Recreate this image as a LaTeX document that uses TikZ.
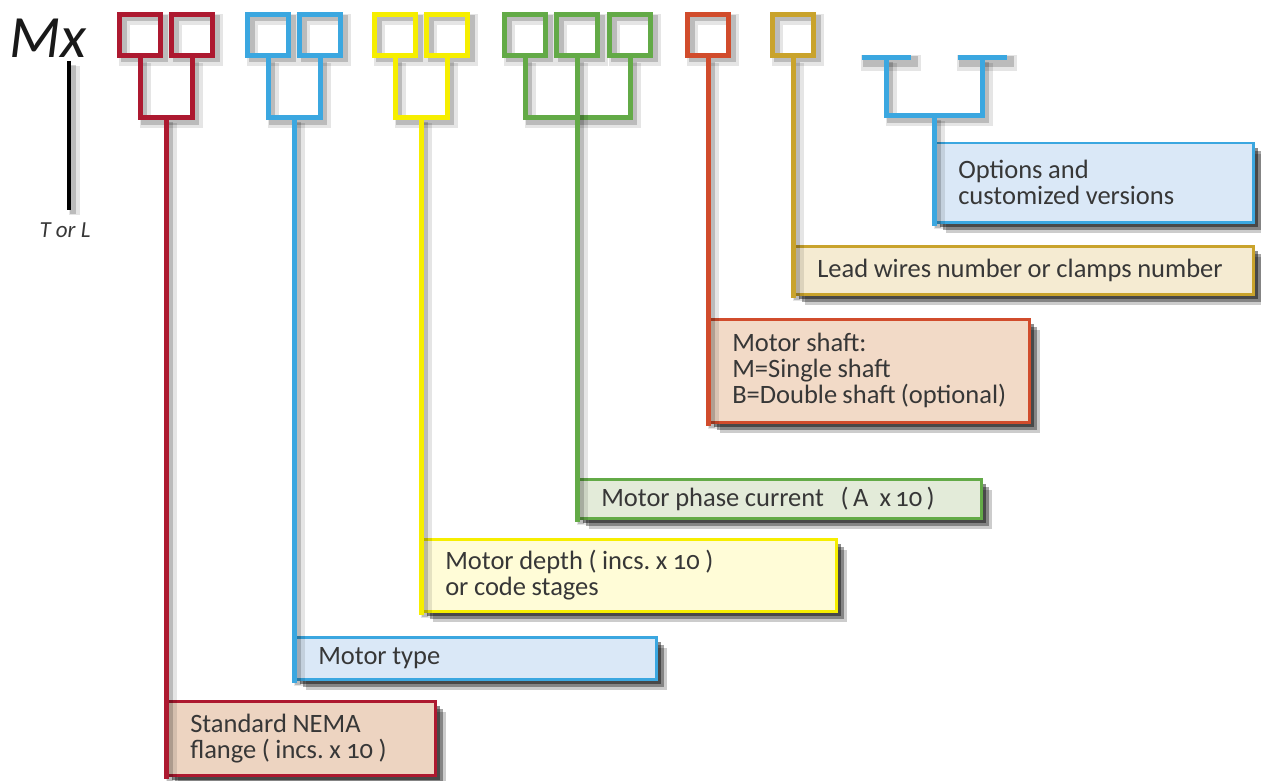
\documentclass[tikz,border=0pt]{standalone}
\usepackage{fontspec}
\setmainfont{Carlito}[Numbers=OldStyle]
\frenchspacing
\usetikzlibrary{calc}
\definecolor{cred}{RGB}{173,25,48}
\definecolor{cblue}{RGB}{59,167,224}
\definecolor{cyel}{RGB}{246,238,0}
\definecolor{cgreen}{RGB}{99,170,71}
\definecolor{corange}{RGB}{209,76,44}
\definecolor{cgold}{RGB}{201,163,44}
\definecolor{fblue}{RGB}{218,232,247}
\definecolor{fnema}{RGB}{237,212,193}
\definecolor{fyel}{RGB}{255,252,215}
\definecolor{fgreen}{RGB}{227,235,217}
\definecolor{fshaft}{RGB}{242,218,199}
\definecolor{flead}{RGB}{245,235,210}
\definecolor{tgray}{RGB}{55,55,55}
\newcommand\boxfont{\fontsize{26.5}{26}\selectfont}
\newcommand\mxfont{\fontsize{60}{60}\selectfont\itshape}
\newcommand\tlfont{\fontsize{23}{24}\selectfont\itshape}
\tikzset{
  lsh/.style={preaction={draw=black, opacity=.10, line width=11, transform canvas={shift={(5,5)}}},
              preaction={draw=black, opacity=.18, line width=6, transform canvas={shift={(4,4)}}}},
  bsh/.style={preaction={fill=black, opacity=.2, transform canvas={shift={(11,11)}}},
              preaction={fill=black, opacity=.35, transform canvas={shift={(8,8)}}},
              preaction={fill=black, opacity=.45, transform canvas={shift={(5,5)}}}},
  sq/.style={draw, line width=5, minimum size=41, inner sep=0, shape=rectangle, lsh},
  tbar/.style={fill, minimum width=49, minimum height=5, inner sep=0, shape=rectangle},
  br/.style={line width=5, line cap=rect, lsh},
  tbox/.style={draw, line width=2.5, inner xsep=23, inner ysep=0, align=left,
               anchor=north west, text=tgray, font=\boxfont, bsh,
               execute at begin node={\spaceskip=.21em plus .05em minus .03em\xspaceskip=.21em\relax}},
}
\begin{document}
\begin{tikzpicture}[x=1pt,y=-1pt]
\fill[white] (0,0) rectangle (1261,781);
\useasboundingbox (0,0) rectangle (1261,781);

% boxes
\node[tbox, draw=cred, fill=fnema, minimum width=268, minimum height=74, text width=222] (nema) at (166,700) {Standard NEMA\\flange ( incs. x 10 )};
\node[tbox, draw=cblue, fill=fblue, minimum width=361, minimum height=42, text width=315] (type) at (294,636) {Motor type};
\node[tbox, draw=cyel, fill=fyel, minimum width=414, minimum height=72, text width=368] (depth) at (421,538) {Motor depth ( incs. x 10 )\\or code stages};
\node[tbox, draw=cgreen, fill=fgreen, minimum width=403, minimum height=39, text width=357] (phase) at (577,478) {Motor phase current\ \ \ (\,A\ \ x\,10\,)};
\node[tbox, draw=corange, fill=fshaft, minimum width=320, minimum height=103, text width=274] (shaft) at (708,318) {Motor shaft:\\M=Single shaft\\B=Double shaft (optional)};
\node[tbox, draw=cgold, fill=flead, minimum width=459, minimum height=48, text width=413] (lead) at (793,245) {Lead wires number or clamps number};
\node[tbox, draw=cblue, fill=fblue, minimum width=318, minimum height=79, text width=272] (opts) at (934,142) {Options and\\customized versions};

% title
\node[anchor=base west, inner sep=0, font=\mxfont, text=black!90] (mx) at (9,58) {Mx};
\node[font=\tlfont, text=tgray] (tl) at (65,230) {T or L};
\coordinate (lt) at (69,61);
\coordinate (lb) at (69,210);
\draw[line width=4, black, lsh] (lt) -- (lb);

% squares
\node[sq, draw=cred] (r1) at (140,35) {};
\node[sq, draw=cred] (r2) at (192,35) {};
\node[sq, draw=cblue] (b1) at (268,35) {};
\node[sq, draw=cblue] (b2) at (320,35) {};
\node[sq, draw=cyel] (y1) at (395,35) {};
\node[sq, draw=cyel] (y2) at (447,35) {};
\node[sq, draw=cgreen] (g1) at (525,35) {};
\node[sq, draw=cgreen] (g2) at (577,35) {};
\node[sq, draw=cgreen] (g3) at (630,35) {};
\node[sq, draw=corange] (o1) at (708,35) {};
\node[sq, draw=cgold] (k1) at (793,35) {};
\node[tbar, cblue, lsh] (t1) at (886,58) {};
\node[tbar, cblue, lsh] (t2) at (982,58) {};

% junctions
\coordinate (rj) at (166,118);
\coordinate (bj) at (294,118);
\coordinate (yj) at (421,118);
\coordinate (tj) at (934,116);

% brackets and connectors
\draw[br, cred] (r1.south) -- (r1.south |- rj) -- (r2.south |- rj) -- (r2.south);
\draw[br, cred] (rj) -- (nema.south west);
\draw[br, cblue] (b1.south) -- (b1.south |- bj) -- (b2.south |- bj) -- (b2.south);
\draw[br, cblue] (bj) -- (type.south west);
\draw[br, cyel] (y1.south) -- (y1.south |- yj) -- (y2.south |- yj) -- (y2.south);
\draw[br, cyel] (yj) -- (depth.south west);
\draw[br, cgreen] (g1.south) -- (g1.south |- rj) -- (g3.south |- rj) -- (g3.south);
\draw[br, cgreen] (g2.south) -- (phase.south west);
\draw[br, corange] (o1.south) -- (shaft.south west);
\draw[br, cgold] (k1.south) -- (lead.south west);
\draw[br, cblue] (t1.center) -- (t1.center |- tj) -- (t2.center |- tj) -- (t2.center);
\draw[br, cblue] (tj) -- (opts.south west);
\end{tikzpicture}
\end{document}
